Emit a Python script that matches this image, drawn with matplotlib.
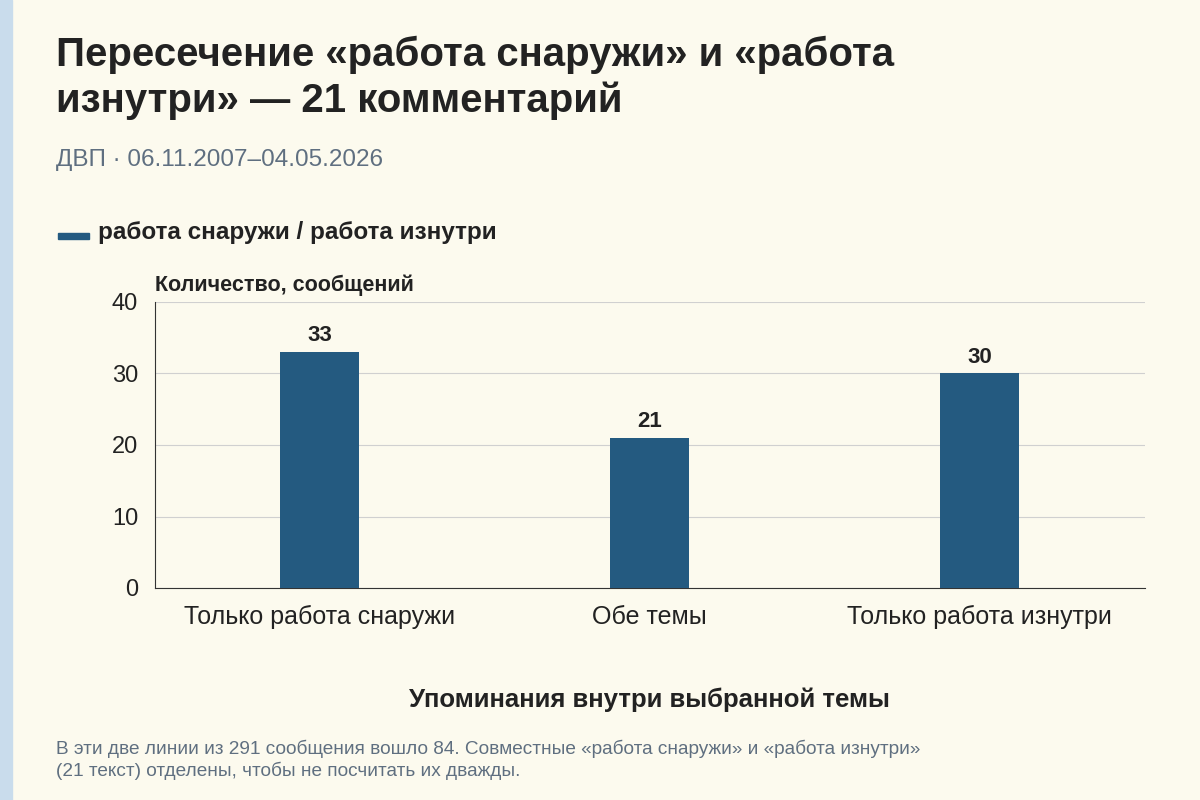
import matplotlib.pyplot as plt
from matplotlib.patches import Rectangle

plt.rcParams['font.family'] = ['Liberation Sans', 'DejaVu Sans']

categories = ["Только работа снаружи", "Обе темы", "Только работа изнутри"]
counts = [33, 21, 30]
y_ticks = [0, 10, 20, 30, 40]

BG = "#fcfaee"
BAR = "#245a80"
DARK = "#222222"
GREY = "#5f6f80"

fig = plt.figure(figsize=(12, 8), dpi=100, facecolor=BG)
fig.patches.append(Rectangle((0, 0), 0.01, 1, transform=fig.transFigure,
                             color="#c9dcec", zorder=0))

ax = fig.add_axes([0.129, 0.265, 0.825, 0.3575], facecolor=BG)
x = range(len(categories))
ax.bar(x, counts, width=0.24, color=BAR, zorder=3)
for xi, v in zip(x, counts):
    ax.text(xi, v + 0.8, str(v), ha="center", va="bottom", fontsize=16,
            fontweight="bold", color=DARK)

ax.set_xlim(-0.5, 2.5)
ax.set_ylim(0, 40)
ax.set_yticks(y_ticks)
ax.set_xticks(list(x))
ax.set_xticklabels(categories)
ax.tick_params(axis="y", length=0, labelsize=17, colors=DARK, pad=12)
ax.tick_params(axis="x", length=0, labelsize=18, colors=DARK, pad=12)
ax.grid(axis="y", color="#d0d0d0", linewidth=0.8, zorder=0)
for s in ["top", "right"]:
    ax.spines[s].set_visible(False)
ax.spines["left"].set_color("#333333")
ax.spines["bottom"].set_color("#333333")

fig.text(0.047, 0.955, "Пересечение «работа снаружи» и «работа\nизнутри» — 21 комментарий",
         fontsize=29, fontweight="bold", color=DARK, va="top", linespacing=1.25)
fig.text(0.047, 0.8, "ДВП · 06.11.2007–04.05.2026", fontsize=17.5, color=GREY, va="center")
fig.patches.append(Rectangle((0.048, 0.701), 0.026, 0.008, transform=fig.transFigure,
                             color=BAR))
fig.text(0.082, 0.709, "работа снаружи / работа изнутри", fontsize=17.5,
         fontweight="bold", color=DARK, va="center")
fig.text(0.129, 0.643, "Количество, сообщений", fontsize=15.5, fontweight="bold",
         color=DARK, va="center")
fig.text(0.541, 0.125, "Упоминания внутри выбранной темы", fontsize=18.5,
         fontweight="bold", color=DARK, ha="center", va="center")
fig.text(0.047, 0.05, "В эти две линии из 291 сообщения вошло 84. Совместные «работа снаружи» и «работа изнутри»\n"
         "(21 текст) отделены, чтобы не посчитать их дважды.",
         fontsize=13.7, color=GREY, va="center", linespacing=1.3)

fig.savefig("out.png", dpi=100, facecolor=BG)
